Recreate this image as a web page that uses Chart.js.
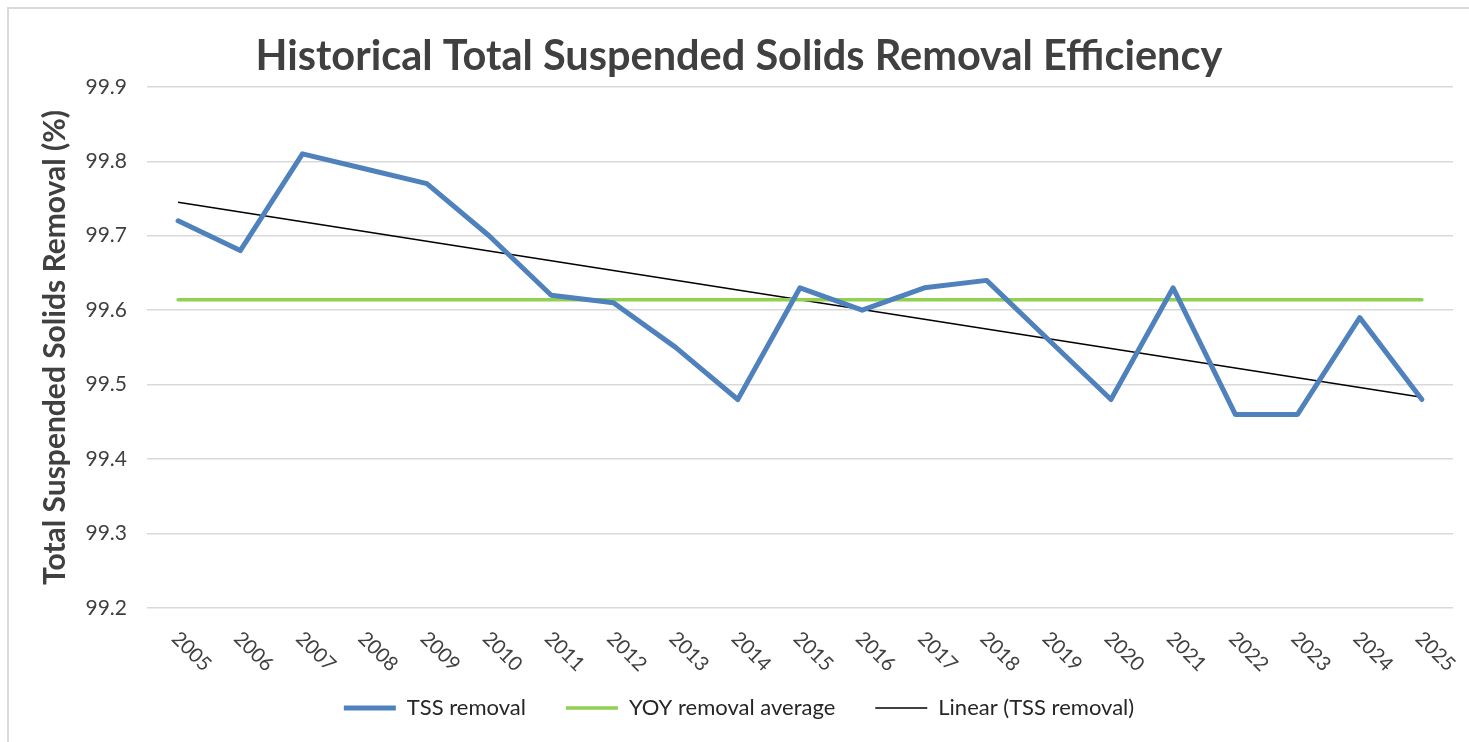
<!DOCTYPE html>
<html>
<head>
<meta charset="utf-8">
<script src="https://cdn.jsdelivr.net/npm/chart.js@4"></script>
<style>
  html, body { margin: 0; padding: 0; background: #fff; }
  #wrap { position: relative; width: 1469px; height: 742px; overflow: hidden; }
  #frame { position: absolute; left: 7px; top: 7px; width: 1500px; height: 800px;
           border-top: 2px solid #d9d9d9; border-left: 2px solid #d9d9d9; pointer-events: none; }
</style>
</head>
<body>
<div id="wrap">
  <canvas id="myChart" width="1469" height="742"></canvas>
  <div id="frame"></div>
</div>
<script>
// years on the x axis
var years = ['2005', '2006', '2007', '2008', '2009', '2010', '2011', '2012', '2013', '2014', '2015',
             '2016', '2017', '2018', '2019', '2020', '2021', '2022', '2023', '2024', '2025'];
// TSS removal (%)
var tssRemoval = [99.72, 99.68, 99.81, 99.79, 99.77, 99.70, 99.62, 99.61, 99.55, 99.48, 99.63,
                  99.60, 99.63, 99.64, 99.56, 99.48, 99.63, 99.46, 99.46, 99.59, 99.48];
// flat average line, ends of the trend line
var yoyAverage = 99.614;
var trendStart = 99.745;
var trendEnd = 99.483;
var yTicks = [99.2, 99.3, 99.4, 99.5, 99.6, 99.7, 99.8, 99.9];

// Excel style slanted year labels (top-left to bottom-right)
var slantLabels = {
    id: 'slantLabels',
    afterDraw: function (chart) {
        var x = chart.scales.x;
        var c = chart.ctx;
        c.save();
        c.font = '20px Lato';
        c.fillStyle = '#404040';
        c.textAlign = 'left';
        c.textBaseline = 'top';
        years.forEach(function (yr, i) {
            var px = x.getPixelForTick(i);
            c.save();
            c.translate(px + 4, chart.chartArea.bottom + 20);
            c.rotate(Math.PI / 4);
            c.fillText(yr, 0, 0);
            c.restore();
        });
        c.restore();
    }
};

var ctx = document.getElementById('myChart').getContext('2d');
var myChart = new Chart(ctx, {
    type: 'line',
    data: {
        labels: years,
        datasets: [{
            label: 'TSS removal',
            data: tssRemoval,
            borderColor: '#4f81bd',
            backgroundColor: '#4f81bd',
            borderWidth: 5,
            borderCapStyle: 'round',
            borderJoinStyle: 'round',
            pointRadius: 0,
            tension: 0
        }, {
            label: 'YOY removal average',
            data: [{x: years[0], y: yoyAverage}, {x: years[years.length - 1], y: yoyAverage}],
            borderColor: '#92d050',
            backgroundColor: '#92d050',
            borderWidth: 3.5,
            borderCapStyle: 'round',
            pointRadius: 0
        }, {
            label: 'Linear (TSS removal)',
            data: [{x: years[0], y: trendStart}, {x: years[years.length - 1], y: trendEnd}],
            borderColor: '#000000',
            backgroundColor: '#000000',
            borderWidth: 1.5,
            pointRadius: 0
        }]
    },
    options: {
        responsive: false,
        animation: false,
        layout: {
            padding: { left: 25, right: 16, top: 0, bottom: 13 }
        },
        plugins: {
            title: {
                display: true,
                text: 'Historical Total Suspended Solids Removal Efficiency',
                color: '#404040',
                font: { family: 'Lato', size: 41.5, weight: 'bold', lineHeight: 1.2 },
                padding: { top: 32, bottom: 5 }
            },
            legend: {
                position: 'bottom',
                labels: {
                    usePointStyle: true,
                    pointStyle: 'line',
                    pointStyleWidth: 52,
                    color: '#262626',
                    font: { family: 'Lato', size: 22 },
                    padding: 40
                }
            },
            tooltip: { enabled: false }
        },
        scales: {
            x: {
                offset: true,
                grid: { display: false },
                border: { display: false },
                ticks: { display: false },
                afterFit: function (scale) { scale.height = 49; }
            },
            y: {
                min: 99.2,
                max: 99.9,
                afterBuildTicks: function (scale) {
                    scale.ticks = yTicks.map(function (v) { return { value: v }; });
                },
                grid: { color: '#d9d9d9', lineWidth: 1.5, drawTicks: false },
                border: { display: false },
                ticks: {
                    color: '#404040',
                    font: { family: 'Lato', size: 21 },
                    padding: 20,
                    callback: function (v) { return v.toFixed(1); }
                },
                title: {
                    display: true,
                    text: 'Total Suspended Solids Removal (%)',
                    color: '#404040',
                    font: { family: 'Lato', size: 30, weight: 'bold', lineHeight: 1.2 },
                    padding: { top: 12, bottom: 0 }
                },
                afterFit: function (scale) { scale.width = 122; }
            }
        }
    },
    plugins: [slantLabels]
});
</script>
</body>
</html>
